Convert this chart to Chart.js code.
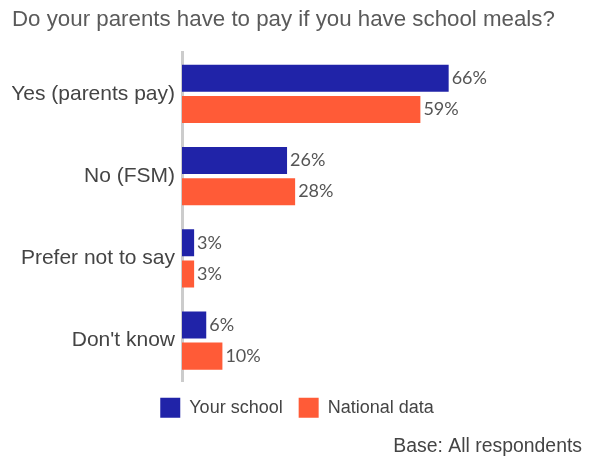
<!DOCTYPE html>
<html>
<head>
<meta charset="utf-8">
<script src="https://cdn.jsdelivr.net/npm/chart.js@4/dist/chart.umd.min.js"></script>
<style>
  html, body { margin: 0; padding: 0; background: #fff; }
  #wrap { width: 596px; height: 459px; position: relative; }
</style>
</head>
<body>
<div id="wrap"><canvas id="c"></canvas></div>
<script>
const categories = ['Yes (parents pay)', 'No (FSM)', 'Prefer not to say', "Don't know"];
const yourSchool = [66, 26, 3, 6];
const nationalData = [59, 28, 3, 10];
const seriesNames = ['Your school', 'National data'];

// value labels drawn at the end of each bar
const valueLabels = {
  id: 'valueLabels',
  afterDatasetsDraw(chart) {
    const ctx = chart.ctx;
    ctx.save();
    ctx.font = '18px Lato, "Open Sans", sans-serif';
    ctx.fillStyle = '#555555';
    ctx.textAlign = 'left';
    ctx.textBaseline = 'middle';
    chart.data.datasets.forEach((ds, i) => {
      const meta = chart.getDatasetMeta(i);
      meta.data.forEach((bar, j) => {
        ctx.fillText(ds.data[j] + '%', bar.x + 3, bar.y);
      });
    });
    ctx.restore();
  }
};

const sans = '"Liberation Sans", Arial, sans-serif';

new Chart(document.getElementById('c'), {
  type: 'bar',
  data: {
    labels: categories,
    datasets: [
      { label: seriesNames[0], data: yourSchool, backgroundColor: '#2023a8',
        categoryPercentage: 0.756, barPercentage: 0.87 },
      { label: seriesNames[1], data: nationalData, backgroundColor: '#ff5b37',
        categoryPercentage: 0.756, barPercentage: 0.87 }
    ]
  },
  options: {
    indexAxis: 'y',
    responsive: true,
    maintainAspectRatio: false,
    animation: false,
    layout: { padding: { left: 12, right: 14, top: 6, bottom: 1 } },
    scales: {
      x: { display: false, min: 0, max: 99 },
      y: {
        grid: { display: false, drawTicks: false },
        border: { display: true, color: '#cccccc', width: 3 },
        ticks: { color: '#444444', padding: 7, font: { family: sans, size: 21 } },
        afterFit(scale) { scale.width = 170; }
      }
    },
    plugins: {
      title: {
        display: true,
        text: 'Do your parents have to pay if you have school meals?',
        align: 'start',
        color: '#5a5a5a',
        font: { family: sans, size: 22.3, weight: 'normal' },
        padding: { top: 0, bottom: 20 }
      },
      legend: {
        position: 'bottom',
        labels: {
          color: '#444444',
          boxWidth: 20, boxHeight: 20, padding: 16,
          font: { family: sans, size: 18 }
        }
      },
      subtitle: {
        display: true,
        position: 'bottom',
        align: 'end',
        text: 'Base: All respondents',
        color: '#444444',
        font: { family: sans, size: 19.4 },
        padding: { top: 7, bottom: 0 }
      },
      tooltip: { enabled: false }
    }
  },
  plugins: [valueLabels]
});
</script>
</body>
</html>
